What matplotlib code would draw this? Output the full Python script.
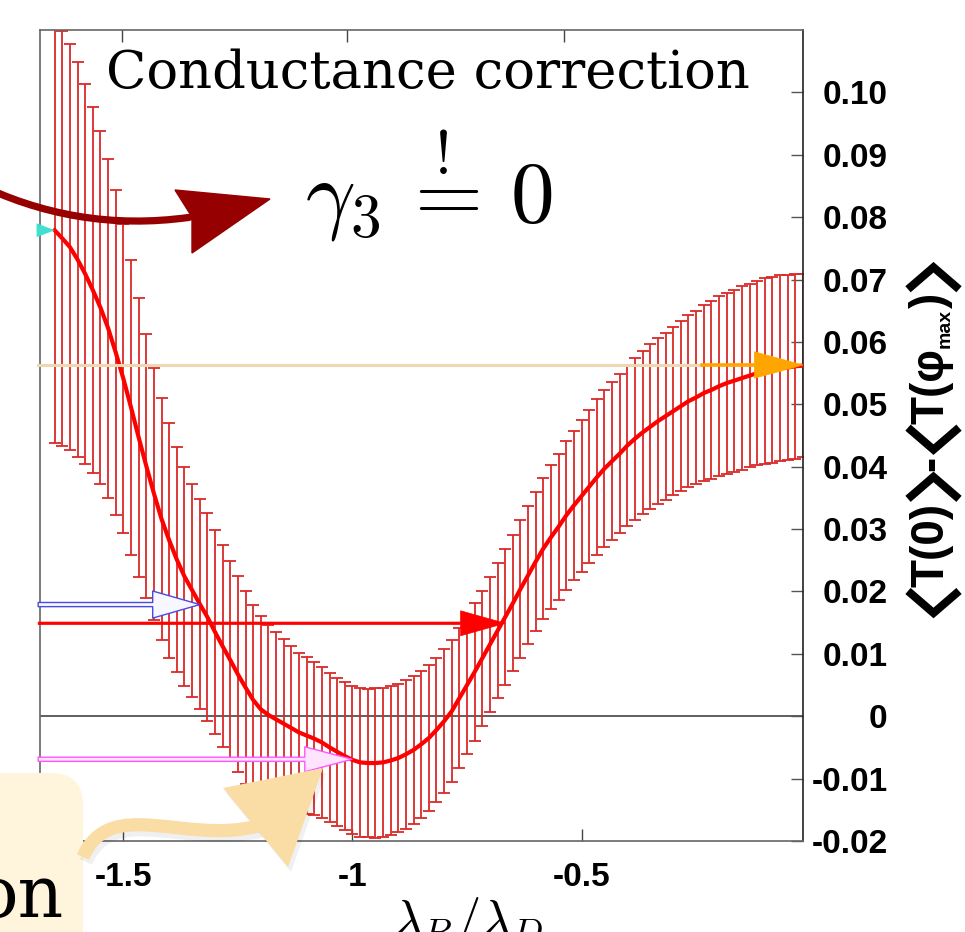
import numpy as np
import matplotlib.pyplot as plt
from matplotlib.patches import FancyArrowPatch, Polygon, PathPatch, FancyBboxPatch
from matplotlib.path import Path
from matplotlib.lines import Line2D
from matplotlib.transforms import IdentityTransform

plt.rcParams['mathtext.fontset'] = 'cm'

#   Data
lam_start = -1.65
lam_step = 1 / 60

corr = [0.0779, 0.0766, 0.0752, 0.0732, 0.0709, 0.0683, 0.0655, 0.0622, 0.0583, 0.0541,
        0.0495, 0.0447, 0.0401, 0.0357, 0.0316, 0.0282, 0.0251, 0.0224, 0.0202, 0.0180,
        0.0159, 0.0135, 0.0112, 0.0090, 0.0067, 0.0046, 0.0026, 0.0011, 0.0002, -0.0005,
        -0.0012, -0.0019, -0.0026, -0.0031, -0.0036, -0.0042, -0.0050, -0.0057, -0.0064, -0.0070,
        -0.0074, -0.0075, -0.0075, -0.0074, -0.0071, -0.0067, -0.0061, -0.0054, -0.0045, -0.0035,
        -0.0022, -0.0008, 0.0008, 0.0029, 0.0050, 0.0071, 0.0093, 0.0115, 0.0137, 0.0159,
        0.0181, 0.0204, 0.0226, 0.0248, 0.0269, 0.0287, 0.0304, 0.0322, 0.0338, 0.0353,
        0.0368, 0.0383, 0.0397, 0.0409, 0.0421, 0.0434, 0.0445, 0.0455, 0.0464, 0.0473,
        0.0481, 0.0489, 0.0497, 0.0505, 0.0511, 0.0518, 0.0523, 0.0529, 0.0534, 0.0538,
        0.0542, 0.0546, 0.0550, 0.0553, 0.0555, 0.0558, 0.0559, 0.0561, 0.0562]

corr_err = [0.0341, 0.0333, 0.0325, 0.0316, 0.0305, 0.0293, 0.0283, 0.0272, 0.0260, 0.0248,
            0.0237, 0.0224, 0.0212, 0.0202, 0.0194, 0.0188, 0.0180, 0.0176, 0.0171, 0.0169,
            0.0167, 0.0164, 0.0162, 0.0159, 0.0157, 0.0155, 0.0152, 0.0149, 0.0145, 0.0140,
            0.0135, 0.0131, 0.0128, 0.0126, 0.0123, 0.0121, 0.0120, 0.0119, 0.0119, 0.0119,
            0.0119, 0.0119, 0.0120, 0.0120, 0.0119, 0.0119, 0.0119, 0.0119, 0.0118, 0.0117,
            0.0116, 0.0115, 0.0114, 0.0112, 0.0111, 0.0110, 0.0108, 0.0108, 0.0108, 0.0109,
            0.0109, 0.0110, 0.0111, 0.0111, 0.0113, 0.0115, 0.0117, 0.0119, 0.0120, 0.0122,
            0.0123, 0.0125, 0.0126, 0.0127, 0.0128, 0.0129, 0.0130, 0.0131, 0.0132, 0.0133,
            0.0134, 0.0135, 0.0136, 0.0138, 0.0139, 0.0141, 0.0143, 0.0144, 0.0145, 0.0146,
            0.0147, 0.0147, 0.0148, 0.0149, 0.0149, 0.0149, 0.0149, 0.0148, 0.0147]

lam = lam_start + lam_step * np.arange(len(corr))

x_ticks = [-1.5, -1.0, -0.5]
x_tick_labels = ['-1.5', '-1', '-0.5']
top_ticks = [-1.503, -1.012, -0.538]
y_ticks = [-0.02, -0.01, 0, 0.01, 0.02, 0.03, 0.04, 0.05, 0.06, 0.07, 0.08, 0.09, 0.10]
y_tick_labels = ['-0.02', '-0.01', '0', '0.01', '0.02', '0.03', '0.04',
                 '0.05', '0.06', '0.07', '0.08', '0.09', '0.10']

# horizontal marker arrows: level and tip position
lvl_orange, tip_orange = 0.0563, -0.0167
lvl_blue, tip_blue = 0.0179, -1.333
lvl_red, tip_red = 0.0149, -0.667
lvl_pink, tip_pink = -0.0069, -1.001

# right label, bottom to top; '<' and '>' are drawn as big angle brackets
ylabel_pieces = [('<', 0, 0), ('T(0)', 33, 0), ('>', 0, 0), ('-', 33, 0),
                 ('<', 0, 0), ('T(\u03c6', 33, 0), ('max', 14, 7), (')', 33, 0),
                 ('>', 0, 0)]


#   Figure
W, H = 965, 932
fig = plt.figure(figsize=(W / 100, H / 100), dpi=100)
ax = fig.add_axes([40 / W, (H - 841) / H, 763 / W, 811 / H])
ax.set_xlim(-1.682, -0.0167)
ax.set_ylim(-0.02, 0.11)

ax.axhline(0, color='#333333', lw=1.1, zorder=1)
ax.errorbar(lam, corr, yerr=corr_err, fmt='none', ecolor='#d92a2a',
            elinewidth=1.3, capsize=4.6, capthick=1.3, zorder=2)
ax.plot(lam, corr, color='#ff0000', lw=3.0, zorder=4)

for side in ['left', 'top', 'bottom']:
    ax.spines[side].set_color('#666666')
    ax.spines[side].set_linewidth(1.2)
ax.spines['right'].set_color('#222222')
ax.spines['right'].set_linewidth(1.2)

ax.yaxis.tick_right()
ax.set_yticks(y_ticks, labels=y_tick_labels, ha='right', fontweight='bold',
              family='Liberation Sans', fontsize=24)
ax.tick_params(axis='y', direction='in', length=8.5, width=1, color='#555555',
               right=True, left=False, pad=61)
ax.set_xticks(x_ticks, labels=x_tick_labels, fontweight='bold',
              family='Liberation Sans', fontsize=24)
ax.tick_params(axis='x', direction='in', length=8.5, width=1, color='#444444', pad=15)

axt = ax.twiny()
axt.set_xlim(ax.get_xlim())
axt.set_xticks(top_ticks, labels=[])
axt.tick_params(axis='x', direction='in', length=8.5, width=1, color='#444444')
for side in axt.spines:
    axt.spines[side].set_visible(False)


def harrow(level, x0, x1, fc, ec, hl, hw, tw, lw=1.0, z=5):
    ax.annotate('', xy=(x1, level), xytext=(x0, level),
                arrowprops=dict(arrowstyle=f'simple,head_length={hl},head_width={hw},tail_width={tw}',
                                fc=fc, ec=ec, lw=lw, shrinkA=0, shrinkB=0, mutation_scale=10),
                annotation_clip=False, zorder=z)


ax.plot([-1.686, -0.24], [lvl_orange, lvl_orange], color='#eed8b4', lw=2.2,
        clip_on=False, zorder=5)
harrow(lvl_orange, -0.24, tip_orange, '#ffa500', '#ffa500', 3.5, 1.9, 0.2, lw=0.5)
harrow(lvl_blue, -1.686, tip_blue, '#f7f7ff', '#4a4ae0', 3.4, 1.95, 0.3)
harrow(lvl_red, -1.686, tip_red, '#ff0000', '#ff0000', 3.2, 1.8, 0.18, lw=0.5)
harrow(lvl_pink, -1.686, tip_pink, '#ffe4ff', '#ff55ff', 3.4, 1.8, 0.3)
harrow(corr[0], lam[0] - 0.038, lam[0], '#40e0d0', '#40e0d0', 1.3, 1.0, 0.05, lw=0)

#   Texts
fig.text(427.5 / W, 1 - 88 / H, 'Conductance correction', ha='center', va='baseline',
         family='DejaVu Serif', fontsize=38)
fig.text(429 / W, 1 - 223 / H, r'$\gamma_3\, \overset{!}{=}\, 0$', ha='center',
         va='baseline', fontsize=63)
fig.text(468 / W, -4 / H, r'$\lambda_B/\lambda_D$', ha='center', va='baseline', fontsize=38)

#   Dark red curved arrow
ident = IdentityTransform()
body = FancyArrowPatch(posA=(-30, 752), posB=(192, 715), transform=ident,
                       connectionstyle='arc3,rad=0.16', arrowstyle='-', lw=5.2,
                       color='#960000', zorder=12)
fig.add_artist(body)
fig.add_artist(Polygon([(270, 733), (175, 742), (192, 715), (192, 679)], closed=True,
                       transform=ident, fc='#960000', ec='#960000', lw=1, zorder=12))

#   Cream box with the end of a word, and tan wavy arrow
fig.add_artist(FancyBboxPatch((-60, -53), 143, 212, boxstyle='round,pad=0,rounding_size=32',
                              transform=ident, fc='#fff5dc', ec='none', zorder=10))
fig.text(64 / W, 1 - 917 / H, 'on', ha='right', va='baseline', family='DejaVu Serif',
         fontsize=51, zorder=13)

wave = [(83, 75), (110, 137), (185, 87), (258, 106)]
codes = [Path.MOVETO, Path.CURVE4, Path.CURVE4, Path.CURVE4]
head = [(323, 164), (223, 144), (288, 65)]
for dxs, dys, col, al in [(3, -5, '#000000', 0.06), (0, 0, '#fadca5', 1.0)]:
    fig.add_artist(PathPatch(Path([(x + dxs, y + dys) for x, y in wave], codes),
                             transform=ident, fc='none', ec=col, lw=9.5, alpha=al,
                             capstyle='butt', zorder=11))
    fig.add_artist(Polygon([(x + dxs, y + dys) for x, y in head], closed=True,
                           transform=ident, fc=col, ec='none', alpha=al, zorder=11))

#   Right-hand label built from pieces
renderer = fig.canvas.get_renderer()
ylab_x, ylab_y = 943, H - 619
br_left, br_right, br_len = 908, 959, 32
for txt, size, dx in ylabel_pieces:
    if txt in '<>':
        x_apex = 0.5 * (br_left + br_right)
        if txt == '<':
            ys = [ylab_y + br_len - 4, ylab_y + 6, ylab_y + br_len - 4]
        else:
            ys = [ylab_y + 4, ylab_y + br_len - 6, ylab_y + 4]
        fig.add_artist(Line2D([br_left, x_apex, br_right], ys, transform=ident, lw=5.8,
                              color='black', solid_joinstyle='miter',
                              solid_capstyle='butt'))
        ylab_y += br_len
        continue
    t = fig.text(ylab_x + dx, ylab_y, txt, transform=ident, rotation=90,
                 rotation_mode='anchor', ha='left', va='baseline', fontsize=size,
                 fontweight='bold', family=['Liberation Sans', 'DejaVu Sans'])
    ylab_y += t.get_window_extent(renderer).height

fig.savefig('out.png', dpi=100)
